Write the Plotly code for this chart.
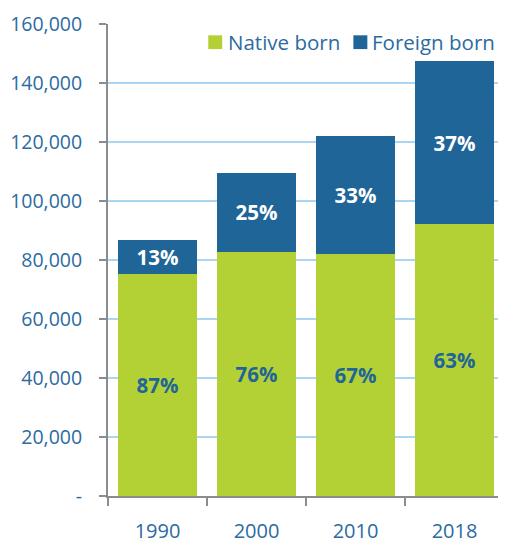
import plotly.graph_objects as go

years = ["1990", "2000", "2010", "2018"]
native_born = [75300, 82900, 82000, 92100]
foreign_born = [11700, 26800, 40000, 55500]
native_pct = ["87%", "76%", "67%", "63%"]
foreign_pct = ["13%", "25%", "33%", "37%"]
y_tickvals = [0, 20000, 40000, 60000, 80000, 100000, 120000, 140000, 160000]
y_ticktext = ["-", "20,000", "40,000", "60,000", "80,000", "100,000", "120,000", "140,000", "160,000"]
series_names = ["Native born", "Foreign born"]

GREEN = "#b3d135"
BLUE = "#1f6597"
LABEL = "#2b6b9f"
GRID = "#abd6f2"
AXIS = "#8c8c8c"
FONT = "Open Sans"

fig = go.Figure()
fig.add_trace(go.Bar(
    x=years, y=native_born, name=series_names[0], marker=dict(color=GREEN, line=dict(width=0)),
    text=native_pct, textposition="inside", insidetextanchor="middle", textangle=0,
    insidetextfont=dict(family=FONT, size=20.5, color=BLUE, weight="bold"),
    hoverinfo="skip", showlegend=False,
))
fig.add_trace(go.Bar(
    x=years, y=foreign_born, name=series_names[1], marker=dict(color=BLUE, line=dict(width=0)),
    text=foreign_pct, textposition="inside", insidetextanchor="middle", textangle=0,
    insidetextfont=dict(family=FONT, size=20.5, color="white", weight="bold"),
    hoverinfo="skip", showlegend=False,
))

# page body has an 8px margin; positions below are in window pixels
OFF = 8
W, H = 506 - OFF, 546 - OFF
L, R, T, B = 107 - OFF, 2, 22 - OFF, 44
pw, ph = W - L - R, H - T - B

def px(xp):
    return (xp - OFF - L) / pw

def py(yp):
    return (H - B - (yp - OFF)) / ph

for name, color, sx, tx in [(series_names[0], GREEN, 207.5, 226.5), (series_names[1], BLUE, 353, 371)]:
    fig.add_shape(type="rect", xref="paper", yref="paper",
                  x0=px(sx), x1=px(sx + 14), y0=py(47.5), y1=py(33.5),
                  fillcolor=color, line=dict(width=0), layer="above")
    fig.add_annotation(xref="paper", yref="paper", x=px(tx), y=py(40.5), text=name,
                       xanchor="left", yanchor="middle", showarrow=False,
                       font=dict(family=FONT, size=20.5, color=LABEL), borderpad=0)

fig.update_layout(
    width=W, height=H, barmode="stack", bargap=0.195,
    margin=dict(l=L, r=R, t=T, b=B),
    plot_bgcolor="white", paper_bgcolor="white",
    font=dict(family=FONT, size=19.5, color=LABEL),
)
fig.update_xaxes(
    type="category", showline=True, linecolor=AXIS, linewidth=2,
    ticks="outside", tickson="boundaries", ticklen=8, tickcolor=AXIS, tickwidth=1.5,
    tickfont=dict(family=FONT, size=20, color=LABEL), showgrid=False,
    ticklabelstandoff=16,
)
fig.update_yaxes(
    range=[0, 160100], tickvals=y_tickvals, ticktext=y_ticktext,
    showline=True, linecolor=AXIS, linewidth=2, zeroline=False,
    ticks="outside", ticklen=7, tickcolor=AXIS, tickwidth=1.5,
    showgrid=True, gridcolor=GRID, gridwidth=2,
    tickfont=dict(family=FONT, size=19.5, color=LABEL),
    ticklabelstandoff=13,
)

fig.write_html("out.html")
